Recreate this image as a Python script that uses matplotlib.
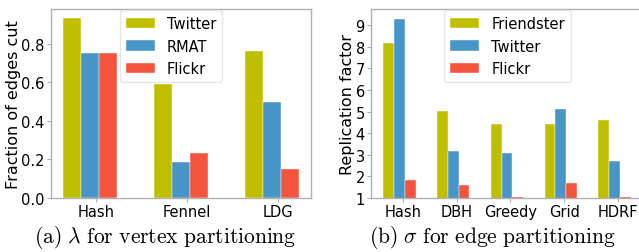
import numpy as np
import matplotlib
matplotlib.use("Agg")
import matplotlib.pyplot as plt

plt.rcParams['mathtext.fontset'] = 'cm'

# (a) vertex partitioning
vp_methods = ['Hash', 'Fennel', 'LDG']
vp_series = ['Twitter', 'RMAT', 'Flickr']
vp_twitter = [0.934, 0.592, 0.762]
vp_rmat = [0.752, 0.188, 0.497]
vp_flickr = [0.752, 0.231, 0.152]

# (b) edge partitioning
ep_methods = ['Hash', 'DBH', 'Greedy', 'Grid', 'HDRF']
ep_series = ['Friendster', 'Twitter', 'Flickr']
ep_friendster = [8.15, 5.03, 4.42, 4.42, 4.60]
ep_twitter = [9.28, 3.18, 3.06, 5.12, 2.71]
ep_flickr = [1.85, 1.62, 1.06, 1.71, 1.06]

colors = ['#bfbf00', '#4896c8', '#f5543c']
width = 0.2
spine_col = '#b0b0b0'
fs = 10.5


def style_axes(ax):
    for s in ax.spines.values():
        s.set_color(spine_col)
        s.set_linewidth(1.0)
    ax.tick_params(axis='both', colors=spine_col, labelcolor='black',
                   length=3, width=0.8, labelsize=fs, pad=1.5)


def grouped(ax, methods, series, values):
    x = np.arange(len(methods))
    for i, (name, vals) in enumerate(zip(series, values)):
        ax.bar(x + (i - 1) * width, vals, width, color=colors[i],
               edgecolor='white', linewidth=0.3, label=name)
    ax.set_xticks(x + 0.065)
    ax.set_xticklabels(methods)
    style_axes(ax)


fig = plt.figure(figsize=(6.39, 2.53), dpi=100)
ax1 = fig.add_axes([51 / 639, 54 / 253, 260 / 639, 189 / 253])
ax2 = fig.add_axes([371 / 639, 54 / 253, 272 / 639, 189 / 253])

grouped(ax1, vp_methods, vp_series, [vp_twitter, vp_rmat, vp_flickr])
ax1.set_ylabel('Fraction of edges cut', fontsize=11.5, labelpad=0.5)
ax1.set_yticks([0.0, 0.2, 0.4, 0.6, 0.8])
ax1.legend(loc='upper center', bbox_to_anchor=(0.463, 1.0), borderaxespad=0.1,
           fontsize=fs, handlelength=2.0, edgecolor='#e0e0e0', fancybox=True)

grouped(ax2, ep_methods, ep_series, [ep_friendster, ep_twitter, ep_flickr])
ax2.set_ylim(bottom=1)
ax2.set_yticks(range(1, 10))
ax2.set_ylabel('Replication factor', fontsize=11.5, labelpad=0.5)
ax2.legend(loc='upper center', bbox_to_anchor=(0.502, 1.0), borderaxespad=0.1,
           fontsize=fs, handlelength=2.0, edgecolor='#e0e0e0', fancybox=True)

fig.text(165 / 639, 1 - 243 / 253, r'$\mathrm{(a)\ }\lambda\mathrm{\ for\ vertex\ partitioning}$',
         ha='center', va='baseline', fontsize=15.5)
fig.text(492 / 639, 1 - 243 / 253, r'$\mathrm{(b)\ }\sigma\mathrm{\ for\ edge\ partitioning}$',
         ha='center', va='baseline', fontsize=15.5)

fig.savefig('out.png', dpi=100)
